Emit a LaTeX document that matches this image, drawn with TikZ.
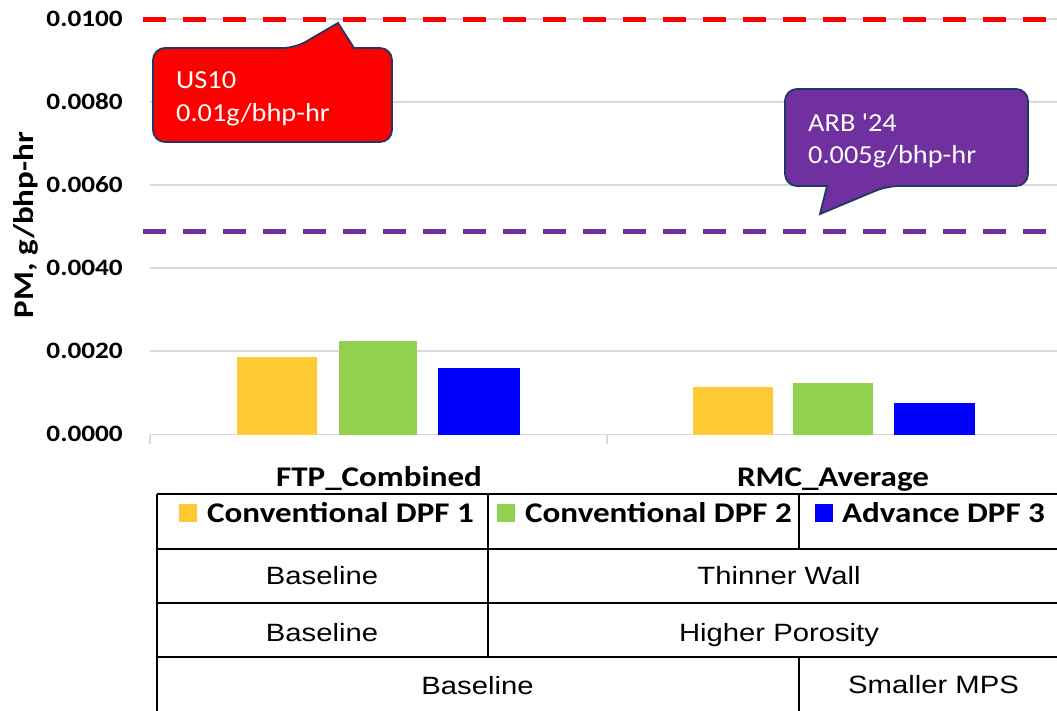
\documentclass[tikz,border=0pt]{standalone}
\usepackage{fontspec}
\newfontfamily\fcal[FakeStretch=1.16]{Carlito}
\newfontfamily\fcalc[FakeStretch=1.09]{Carlito}
\newfontfamily\farl[FakeStretch=1.17]{Liberation Sans}
\definecolor{cy}{RGB}{255,201,51}
\definecolor{cg}{RGB}{146,208,80}
\definecolor{cb}{RGB}{0,0,255}
\definecolor{cred}{RGB}{255,0,0}
\definecolor{cpur}{RGB}{112,48,160}
\definecolor{cbord}{RGB}{32,56,100}
\definecolor{gridgray}{RGB}{217,217,217}
\begin{document}
\begin{tikzpicture}[x=1pt,y=-1pt,
  gridln/.style={draw=gridgray, line width=1.5pt},
  tline/.style={draw=black, line width=2pt},
  limit/.style={line width=5pt, dash pattern=on 23pt off 17pt},
  callout/.style={draw=cbord, line width=1.8pt},
  lbl/.style={inner sep=0pt},
  ytick/.style={lbl, anchor=base east, font=\fcal\bfseries\fontsize{23.5}{28}\selectfont},
  cat/.style={lbl, anchor=base, font=\fcal\bfseries\fontsize{28.5}{34}\selectfont},
  leg/.style={lbl, anchor=base west, font=\fcal\bfseries\fontsize{28.5}{34}\selectfont},
  cell/.style={lbl, anchor=base, font=\farl\fontsize{25}{30}\selectfont},
  ctext/.style={lbl, anchor=base west, text=white, font=\fcalc\fontsize{26}{31}\selectfont}]
\useasboundingbox (0,0) rectangle (1057,710);
\clip (0,0) rectangle (1057,710);
\fill[white] (0,0) rectangle (1057,710);
% grid
\foreach \yy in {19,102,185,268,351} \draw[gridln] (150,\yy) -- (1057,\yy);
\draw[gridln] (150,434.5) -- (1057,434.5);
\draw[gridln] (150,434.5) -- (150,444);
\draw[gridln] (607,434.5) -- (607,444);
% y tick labels
\node[ytick] (t0) at (123,441) {0.0000};
\node[ytick] (t2) at (123,358) {0.0020};
\node[ytick] (t4) at (123,275) {0.0040};
\node[ytick] (t6) at (123,192) {0.0060};
\node[ytick] (t8) at (123,109) {0.0080};
\node[ytick] (t10) at (123,26) {0.0100};
\node[lbl, anchor=base, rotate=90, font=\fcal\bfseries\fontsize{28.5}{34}\selectfont] (ytitle) at (33,225) {PM, g/bhp-hr};
% bars
\fill[cy] (237,357) rectangle (317,434.5);
\fill[cg] (339,341) rectangle (417,434.5);
\fill[cb] (438,368) rectangle (520,434.5);
\fill[cy] (693,387) rectangle (773,434.5);
\fill[cg] (793,383) rectangle (873,434.5);
\fill[cb] (894,403) rectangle (975,434.5);
% limit lines
\draw[limit, draw=cred] (143,19) -- (1057,19);
\draw[limit, draw=cpur] (143,231) -- (1057,231);
% callouts
\draw[callout, fill=cred] (153,95) [rounded corners=12pt] -- (153,48) -- (295,48) [sharp corners] -- (338,23) -- (354,48) [rounded corners=12pt] -- (392,48) -- (392,142) -- (153,142) -- cycle;
\node[ctext] (us1) at (176,88) {US10};
\node[ctext] (us2) at (176,121) {0.01g/bhp-hr};
\draw[callout, fill=cpur] (785,140) [rounded corners=12pt] -- (785,89) -- (1028,89) -- (1028,186) -- (887,186) [sharp corners] -- (820,214) -- (827,186) [rounded corners=12pt] -- (785,186) -- cycle;
\node[ctext] (arb1) at (808,131) {ARB '24};
\node[ctext] (arb2) at (808,163) {0.005g/bhp-hr};
% category labels
\node[cat] (ftp) at (379,486) {FTP\_Combined};
\node[cat] (rmc) at (833,486) {RMC\_Average};
% table
\draw[tline] (157,494) -- (1070,494);
\draw[tline] (157,549) -- (1070,549);
\draw[tline] (157,603) -- (1070,603);
\draw[tline] (157,657) -- (1070,657);
\draw[tline] (157,494) -- (157,712);
\draw[tline] (488,494) -- (488,657);
\draw[tline] (799,494) -- (799,549);
\draw[tline] (799,657) -- (799,712);
% legend row
\fill[cy] (179,504) rectangle (197,522);
\node[leg] (l1) at (207,522) {Conventional DPF 1};
\fill[cg] (497,504) rectangle (515,522);
\node[leg] (l2) at (525,522) {Conventional DPF 2};
\fill[cb] (815,504) rectangle (833,522);
\node[leg] (l3) at (842,522) {Advance DPF 3};
% rows
\node[cell] (r1a) at (322,584) {Baseline};
\node[cell] (r1b) at (779,584) {Thinner Wall};
\node[cell] (r2a) at (322,641) {Baseline};
\node[cell] (r2b) at (779,641) {Higher Porosity};
\node[cell] (r3a) at (477.5,694) {Baseline};
\node[cell] (r3b) at (933.5,693) {Smaller MPS};
\end{tikzpicture}
\end{document}
